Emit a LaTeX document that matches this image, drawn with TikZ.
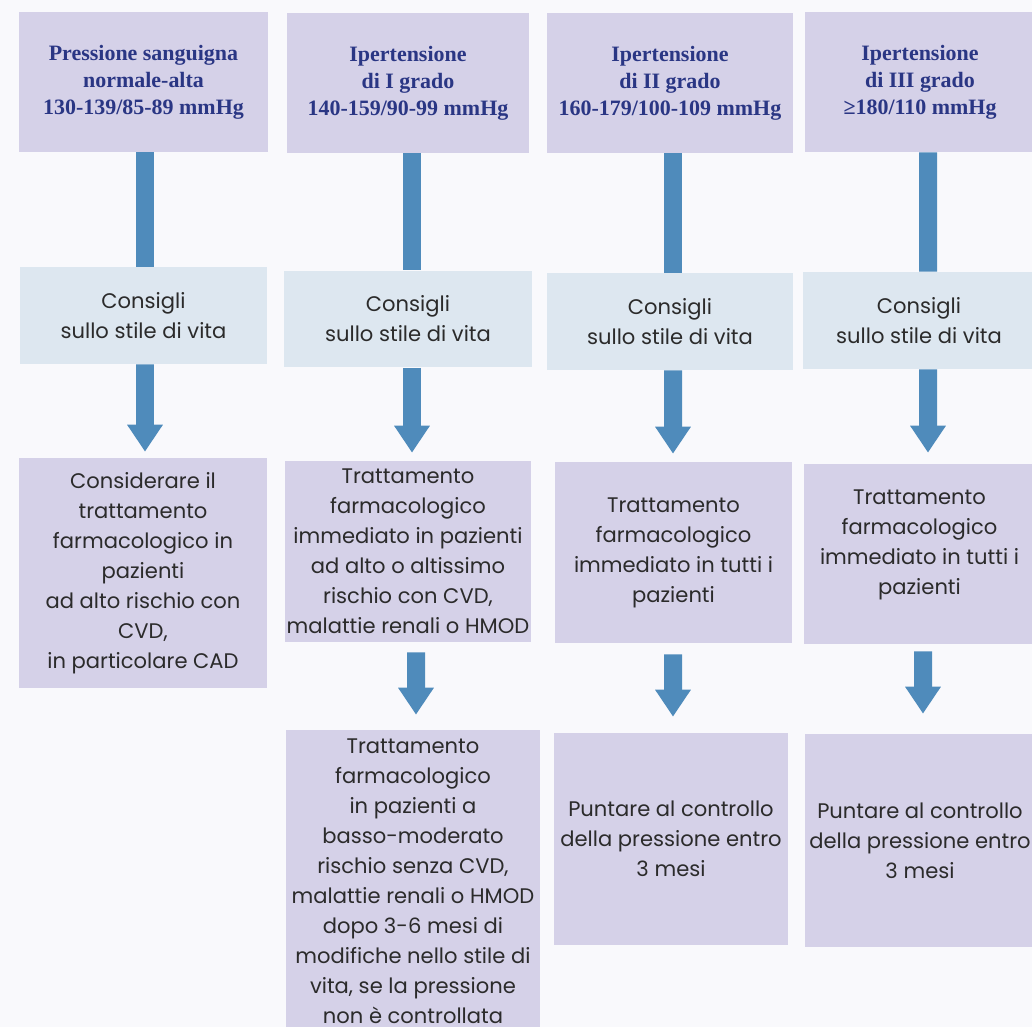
\documentclass[tikz,border=0pt]{standalone}
\usepackage{fontspec}
\setmainfont{Poppins}
\newfontfamily\headfont{Liberation Serif}
\usepackage{xcolor}
\usetikzlibrary{arrows.meta}
\definecolor{bgcol}{HTML}{F9F9FC}
\definecolor{lilac}{HTML}{D5D1E8}
\definecolor{pale}{HTML}{DDE7F0}
\definecolor{steel}{HTML}{4F8BBB}
\definecolor{navy}{HTML}{2A3684}
\definecolor{ink}{HTML}{2B2B2B}
\tikzset{hbox/.style = {fill=lilac, inner sep=0pt, align=center, text=navy, minimum height=2.8cm, font=\headfont\bfseries\fontsize{12.5}{15.4}\selectfont}}
\tikzset{cbox/.style = {fill=pale, inner sep=0pt, align=center, text=ink, minimum height=1.94cm, font=\fontsize{12}{17.1}\selectfont}}
\tikzset{tbox/.style = {fill=lilac, inner sep=0pt, align=center, text=ink, font=\fontsize{12}{17.1}\selectfont}}
\tikzset{bar/.style = {draw=steel, line width=0.36cm}}
\tikzset{down/.style = {bar, -{Triangle[width=0.68cm, length=0.54cm]}}}

\begin{document}
\begin{tikzpicture}[x=0.02cm, y=-0.02cm]
        \useasboundingbox (0,0) rectangle (1032,1027);
        \fill[bgcol] (0,0) rectangle (1032,1027);
        \clip (0,0) rectangle (1032,1027);
        % headers
        \node[hbox, minimum width=4.98cm] (h1) at (143.5,82) {Pressione sanguigna\\normale-alta\\130-139/85-89 mmHg};
        \node[hbox, minimum width=4.84cm] (h2) at (408,83) {Ipertensione\\di I grado\\140-159/90-99 mmHg};
        \node[hbox, minimum width=4.92cm] (h3) at (670,83) {Ipertensione\\di II grado\\160-179/100-109 mmHg};
        \node[hbox, minimum width=4.60cm] (h4) at (920,82) {Ipertensione\\di III grado\\≥180/110 mmHg};
        % lifestyle
        \node[cbox, minimum width=4.94cm] (c1) at (143.5,315.5) {Consigli\\sullo stile di vita};
        \node[cbox, minimum width=4.96cm] (c2) at (408,319) {Consigli\\sullo stile di vita};
        \node[cbox, minimum width=4.92cm] (c3) at (670,321.5) {Consigli\\sullo stile di vita};
        \node[cbox, minimum width=4.64cm] (c4) at (919,320.5) {Consigli\\sullo stile di vita};
        % treatment
        \node[tbox, minimum width=4.96cm, minimum height=4.6cm] (t1) at (143,573) {Considerare il\\trattamento\\farmacologico in\\pazienti\\ad alto rischio con\\CVD,\\in particolare CAD};
        \node[tbox, minimum width=4.94cm, minimum height=3.62cm] (t2) at (408,551.5) {Trattamento\\farmacologico\\immediato in pazienti\\ad alto o altissimo\\rischio con CVD,\\malattie renali o HMOD};
        \node[tbox, minimum width=4.74cm, minimum height=3.62cm] (t3) at (673.5,552.5) {Trattamento\\farmacologico\\immediato in tutti i\\pazienti};
        \node[tbox, minimum width=4.62cm, minimum height=3.6cm] (t4) at (919.5,554) {Trattamento\\farmacologico\\immediato in tutti i\\pazienti\\[-3.4pt]\mbox{}};
        % follow-up
        \node[tbox, minimum width=5.08cm, minimum height=6.06cm] (b2) at (413,881.5) {Trattamento\\farmacologico\\in pazienti a\\basso-moderato\\rischio senza CVD,\\malattie renali o HMOD\\dopo 3-6 mesi di\\modifiche nello stile di\\vita, se la pressione\\non è controllata};
        \node[tbox, minimum width=4.68cm, minimum height=4.24cm] (b3) at (671,839) {Puntare al controllo\\della pressione entro\\3 mesi};
        \node[tbox, minimum width=4.60cm, minimum height=4.26cm] (b4) at (920,840.5) {Puntare al controllo\\della pressione entro\\3 mesi};
        % arrows
        \draw[bar] ([xshift=0.03cm]h1.south) -- ([xshift=0.03cm]c1.north);
        \draw[bar] ([xshift=0.08cm]h2.south) -- ([xshift=0.08cm]c2.north);
        \draw[bar] ([xshift=0.06cm]h3.south) -- ([xshift=0.06cm]c3.north);
        \draw[bar] ([xshift=0.16cm]h4.south) -- ([xshift=0.18cm]c4.north);
        \draw[down, shorten >=0.12cm] ([xshift=0.03cm]c1.south) -- ([xshift=0.04cm]t1.north);
        \draw[down, shorten >=0.16cm] ([xshift=0.08cm]c2.south) -- ([xshift=0.08cm]t2.north);
        \draw[down, shorten >=0.16cm] ([xshift=0.06cm]c3.south) -- ([xshift=-0.01cm]t3.north);
        \draw[down, shorten >=0.22cm] ([xshift=0.18cm]c4.south) -- ([xshift=0.17cm]t4.north);
        \draw[down, shorten <=0.2cm, shorten >=0.3cm] ([xshift=0.16cm]t2.south) -- ([xshift=0.06cm]b2.north);
        \draw[down, shorten <=0.22cm, shorten >=0.32cm] ([xshift=-0.01cm]t3.south) -- ([xshift=0.04cm]b3.north);
        \draw[down, shorten <=0.14cm, shorten >=0.4cm] ([xshift=0.07cm]t4.south) -- ([xshift=0.06cm]b4.north);
    \end{tikzpicture}
\end{document}
